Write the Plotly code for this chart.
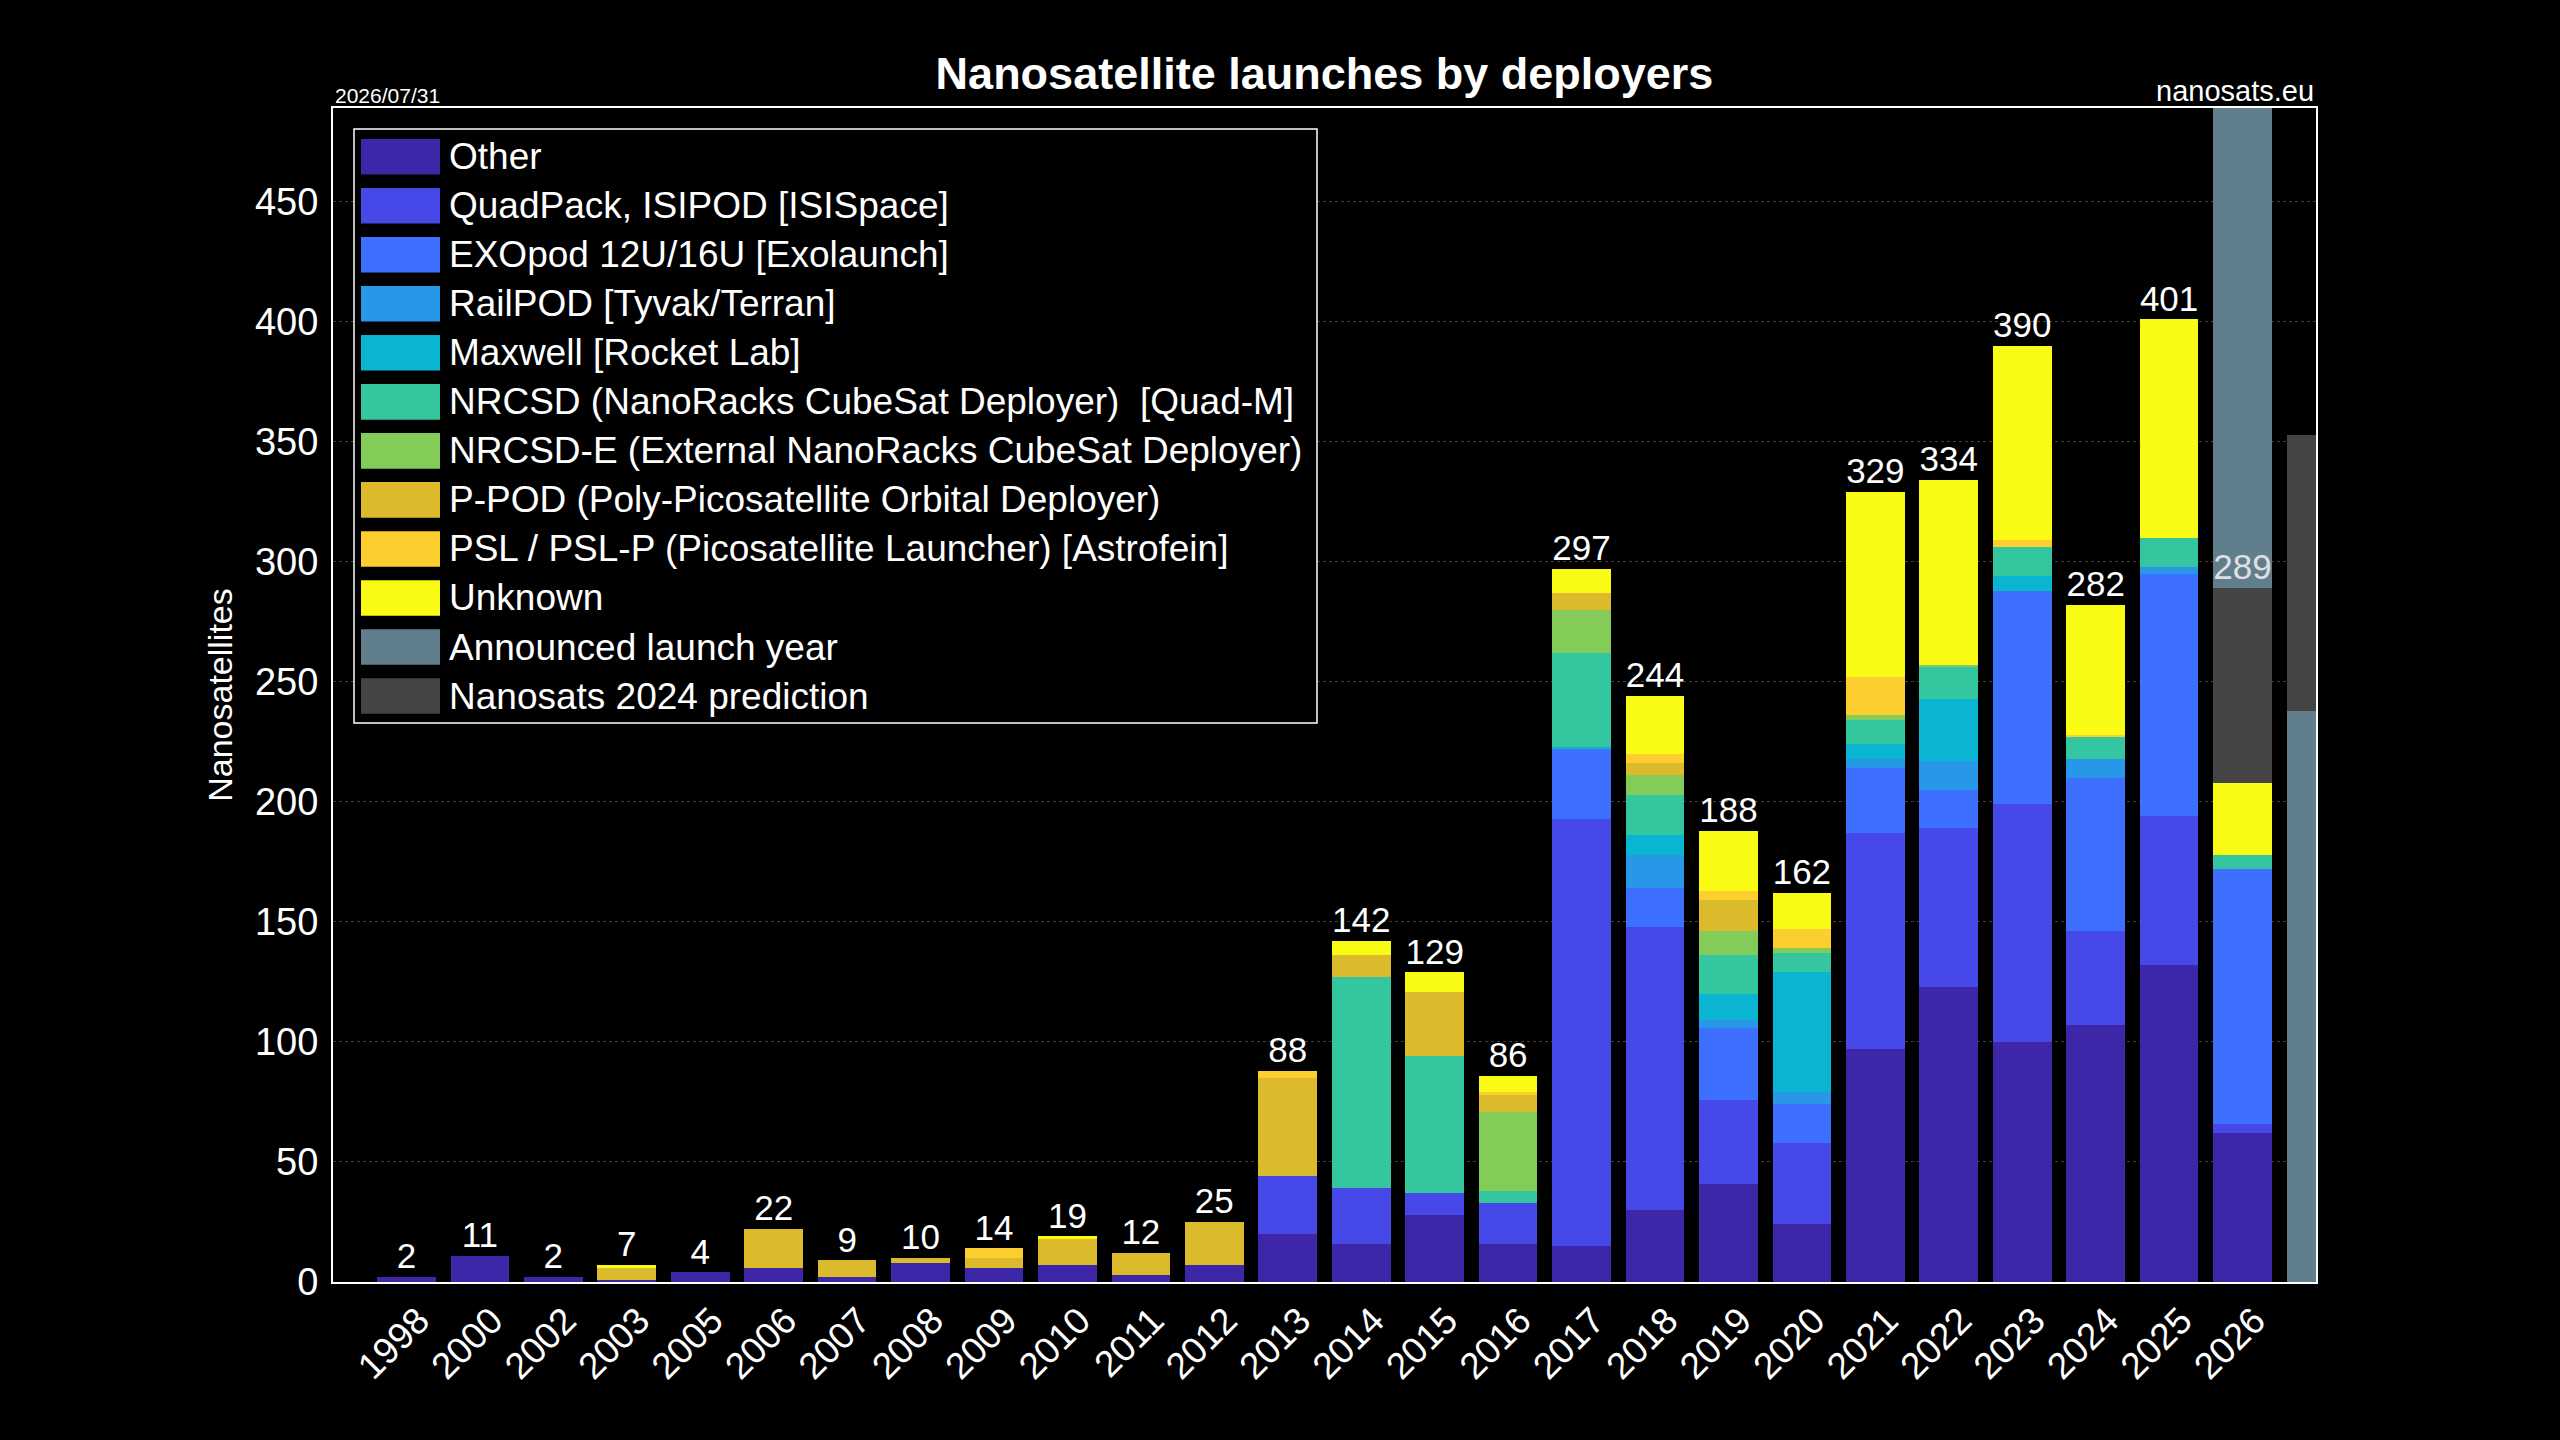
import numpy as np
import plotly.graph_objects as go

# launch years shown on the axis (1998 .. 2026)
years = [1998, 2000, 2002, 2003, 2005, 2006, 2007, 2008, 2009, 2010, 2011, 2012,
         2013, 2014, 2015, 2016, 2017, 2018, 2019, 2020, 2021, 2022, 2023, 2024, 2025, 2026]

# nanosatellites per deployer and year (stack order: bottom -> top)
other    = [2, 11, 2, 1, 4, 6, 2, 8, 6, 7, 3, 7, 20, 16, 28, 16, 15, 30, 41, 24, 97, 123, 100, 107, 132, 62]
quadpack = [0, 0, 0, 0, 0, 0, 0, 0, 0, 0, 0, 0, 24, 23, 9, 17, 178, 118, 35, 34, 90, 66, 99, 39, 62, 4]
exopod   = [0, 0, 0, 0, 0, 0, 0, 0, 0, 0, 0, 0, 0, 0, 0, 0, 29, 16, 30, 16, 27, 16, 89, 64, 101, 106]
railpod  = [0, 0, 0, 0, 0, 0, 0, 0, 0, 0, 0, 0, 0, 0, 0, 0, 0, 14, 3, 5, 4, 12, 0, 8, 3, 0]
maxwell  = [0, 0, 0, 0, 0, 0, 0, 0, 0, 0, 0, 0, 0, 0, 0, 0, 1, 8, 11, 50, 6, 26, 6, 0, 0, 0]
nrcsd    = [0, 0, 0, 0, 0, 0, 0, 0, 0, 0, 0, 0, 0, 88, 57, 5, 39, 17, 16, 8, 10, 13, 12, 9, 12, 6]
nrcsd_e  = [0, 0, 0, 0, 0, 0, 0, 0, 0, 0, 0, 0, 0, 0, 0, 33, 18, 8, 10, 2, 2, 1, 0, 0, 0, 0]
ppod     = [0, 0, 0, 5, 0, 16, 7, 2, 4, 11, 9, 18, 41, 9, 27, 7, 7, 5, 13, 0, 0, 0, 0, 0, 0, 0]
psl      = [0, 0, 0, 0, 0, 0, 0, 0, 4, 0, 0, 0, 3, 0, 0, 1, 0, 4, 4, 8, 16, 0, 3, 1, 0, 0]
unknown  = [0, 0, 0, 1, 0, 0, 0, 0, 0, 1, 0, 0, 0, 6, 8, 7, 10, 24, 25, 15, 77, 77, 81, 54, 91, 30]

deployers = [
    "Other",
    "QuadPack, ISIPOD [ISISpace]",
    "EXOpod 12U/16U [Exolaunch]",
    "RailPOD [Tyvak/Terran]",
    "Maxwell [Rocket Lab]",
    "NRCSD (NanoRacks CubeSat Deployer) \u00a0[Quad-M]",
    "NRCSD-E (External NanoRacks CubeSat Deployer)",
    "P-POD (Poly-Picosatellite Orbital Deployer)",
    "PSL / PSL-P (Picosatellite Launcher) [Astrofein]",
    "Unknown",
]
series = [other, quadpack, exopod, railpod, maxwell, nrcsd, nrcsd_e, ppod, psl, unknown]
colors = ["#3e26a8", "#4748e8", "#3e70ff", "#2897e8", "#09b5d0",
          "#33c69f", "#84cc58", "#dbba2b", "#fcce2e", "#f9fb15"]

# forecast part
forecast_years = [2026, 2027]
announced = [230, 238]
prediction = [81, 115]
ANN_NAME, ANN_COLOR = "Announced launch year", "#617e8c"
PRED_NAME, PRED_COLOR = "Nanosats 2024 prediction", "#444444"

FONT = "Liberation Sans, Arial, sans-serif"

x = np.arange(len(years))
fx = [years.index(y) if y in years else len(years) for y in forecast_years]

fig = go.Figure()
for name, vals, col in zip(deployers, series, colors):
    fig.add_trace(go.Bar(x=x, y=vals, name=name, marker_color=col,
                         marker_line_width=0, width=0.8))

# 2026: prediction below announced, 2027: announced below prediction
fig.add_trace(go.Bar(x=fx[:1], y=prediction[:1], name=PRED_NAME,
                     marker_color=PRED_COLOR, marker_line_width=0, width=0.8))
fig.add_trace(go.Bar(x=fx, y=announced, name=ANN_NAME,
                     marker_color=ANN_COLOR, marker_line_width=0, width=0.8))
fig.add_trace(go.Bar(x=fx[1:], y=prediction[1:], name=PRED_NAME,
                     marker_color=PRED_COLOR, marker_line_width=0, width=0.8))

# total labels
totals = np.sum(np.array(series), axis=0)
labels = totals.copy()
labels[fx[0]] += prediction[0]
label_colors = ["white"] * len(years)
label_colors[fx[0]] = "#e0e0e0"
fig.add_trace(go.Scatter(x=x, y=labels, mode="text",
                         text=[str(v) for v in labels], textposition="top center",
                         textfont=dict(size=35, color=label_colors, family=FONT),
                         cliponaxis=False, hoverinfo="skip"))

# plot area in pixels
PL, PR, PT, PB = 333, 2316, 108, 1282
W, H = 2560, 1440


def px_x(p):
    return (p - PL) / (PR - PL)


def px_y(p):
    return (PB - p) / (PB - PT)


fig.update_layout(
    width=W, height=H,
    paper_bgcolor="black", plot_bgcolor="black",
    barmode="stack", showlegend=False,
    margin=dict(l=PL, r=W - PR, t=PT, b=H - PB),
    font=dict(family=FONT, color="white", size=37),
    title=dict(text="<b>Nanosatellite launches by deployers</b>",
               x=0.5, xref="paper", xanchor="center",
               y=1 - 73 / H, yref="container", yanchor="middle",
               font=dict(size=45, color="white")),
)
fig.update_xaxes(range=[-1, len(years)], tickvals=x, ticktext=[str(y) for y in years],
                 tickangle=-45, tickfont=dict(size=37), showgrid=False, zeroline=False,
                 showline=True, mirror=True, linecolor="white", linewidth=2, ticks="",
                 ticklabelshift=12)
fig.update_yaxes(range=[0, 489], dtick=50, tickfont=dict(size=38), zeroline=False,
                 showline=True, mirror=True, linecolor="white", linewidth=2, ticks="",
                 ticklabelstandoff=5,
                 gridcolor="#404040", griddash="dot", gridwidth=1,
                 title=dict(text="Nanosatellites", font=dict(size=34), standoff=12))

# legend drawn by hand to get the wide colour swatches
fig.add_shape(type="rect", xref="paper", yref="paper",
              x0=px_x(354), x1=px_x(1317), y0=px_y(723), y1=px_y(129),
              line=dict(color="white", width=1.5), fillcolor="black", layer="above")
legend_names = deployers + [ANN_NAME, PRED_NAME]
legend_colors = colors + [ANN_COLOR, PRED_COLOR]
for i, (name, col) in enumerate(zip(legend_names, legend_colors)):
    yc = 156.7 + 49.03 * i
    fig.add_shape(type="rect", xref="paper", yref="paper",
                  x0=px_x(361), x1=px_x(440), y0=px_y(yc + 17.8), y1=px_y(yc - 17.8),
                  line=dict(width=0), fillcolor=col, layer="above")
    fig.add_annotation(text=name, xref="paper", yref="paper", x=px_x(447), y=px_y(yc),
                       xanchor="left", yanchor="middle", showarrow=False,
                       font=dict(size=37, color="white", family=FONT))

fig.add_annotation(text="2026/07/31", xref="paper", yref="paper", x=0, y=px_y(95),
                   xanchor="left", yanchor="middle", showarrow=False,
                   font=dict(size=21, color="white"))
fig.add_annotation(text="nanosats.eu", xref="paper", yref="paper", x=1, y=px_y(91),
                   xanchor="right", yanchor="middle", showarrow=False,
                   font=dict(size=29, color="white"))

# drop the default page margin so the figure fills the window
fig.write_html("out.html", config={"displayModeBar": False},
               post_script="document.body.style.margin='0';document.body.style.background='black';")
